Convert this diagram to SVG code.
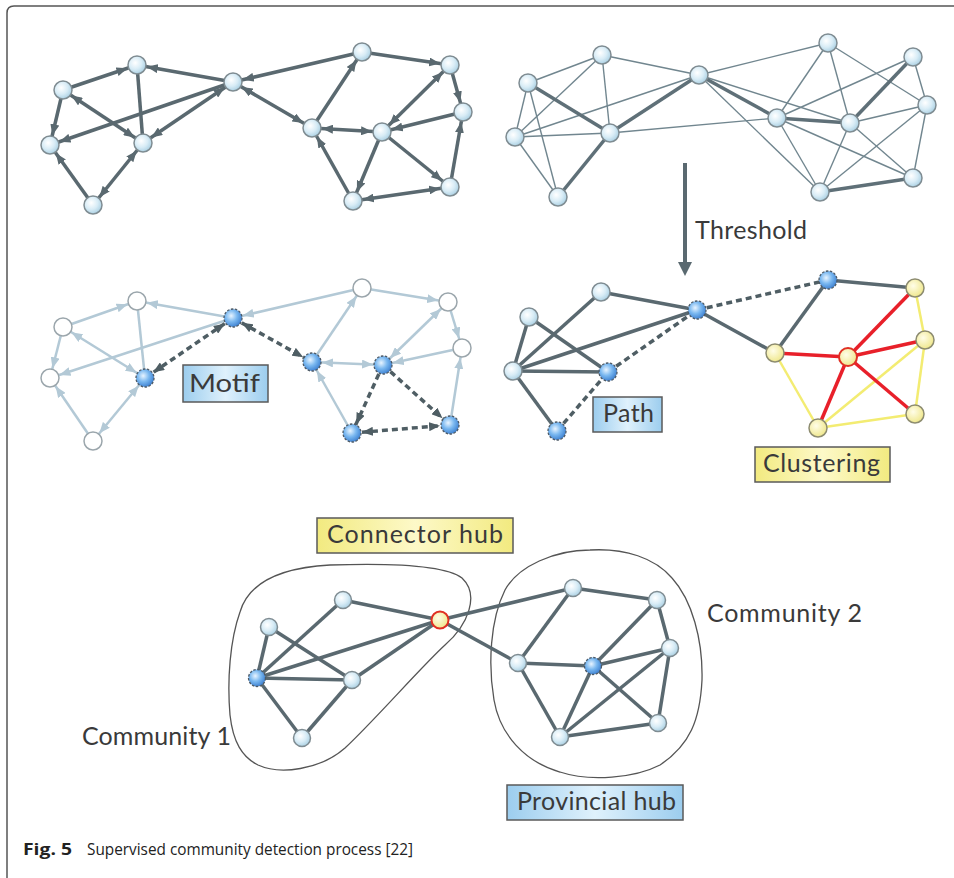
<svg xmlns="http://www.w3.org/2000/svg" width="954" height="878" viewBox="0 0 954 878">
  <defs>
    <radialGradient id="gNode" cx="40%" cy="38%" r="65%">
      <stop offset="0" stop-color="#ffffff"/>
      <stop offset="0.55" stop-color="#d8ecf6"/>
      <stop offset="1" stop-color="#a9cfe2"/>
    </radialGradient>
    <radialGradient id="gBlue" cx="40%" cy="38%" r="65%">
      <stop offset="0" stop-color="#e8f4ff"/>
      <stop offset="0.5" stop-color="#7ab8f0"/>
      <stop offset="1" stop-color="#3c7fd0"/>
    </radialGradient>
    <radialGradient id="gYellow" cx="40%" cy="38%" r="65%">
      <stop offset="0" stop-color="#fffde8"/>
      <stop offset="1" stop-color="#efe78a"/>
    </radialGradient>
    <linearGradient id="gBoxBlue" x1="0" y1="0" x2="1" y2="0">
      <stop offset="0" stop-color="#9ccdee"/>
      <stop offset="0.5" stop-color="#dff1fc"/>
      <stop offset="1" stop-color="#9ccdee"/>
    </linearGradient>
    <linearGradient id="gBoxYellow" x1="0" y1="0" x2="1" y2="0">
      <stop offset="0" stop-color="#f2ea80"/>
      <stop offset="0.5" stop-color="#fdf9c8"/>
      <stop offset="1" stop-color="#f2ea80"/>
    </linearGradient>
    <marker id="ahDark" viewBox="0 0 11 9" refX="21" refY="4.5" markerWidth="11" markerHeight="9" markerUnits="userSpaceOnUse" orient="auto-start-reverse">
      <path d="M0,0 L11,4.5 L0,9 z" fill="#5a6970"/>
    </marker>
    <marker id="ahLight" viewBox="0 0 11 9" refX="21" refY="4.5" markerWidth="11" markerHeight="9" markerUnits="userSpaceOnUse" orient="auto-start-reverse">
      <path d="M0,0 L11,4.5 L0,9 z" fill="#b3c9d6"/>
    </marker>
    <marker id="ahDash" viewBox="0 0 11 9" refX="21" refY="4.5" markerWidth="11" markerHeight="9" markerUnits="userSpaceOnUse" orient="auto-start-reverse">
      <path d="M0,0 L11,4.5 L0,9 z" fill="#4f5e64"/>
    </marker>
  </defs>
  <style>
    .frame { fill: none; stroke: #555; stroke-width: 1.5; }
    .dark { stroke: #5a6970; stroke-width: 3.5; fill: none; }
    .light { stroke: #b3c9d6; stroke-width: 2.5; fill: none; }
    .dash { stroke: #4f5e64; stroke-width: 3.5; stroke-dasharray: 6 4; fill: none; }
    .thin { stroke: #71868f; stroke-width: 1.4; }
    .thick { stroke: #5f7078; stroke-width: 3.5; }
    .red { stroke: #e8202a; stroke-width: 3.5; }
    .yel { stroke: #f3ec72; stroke-width: 2.5; }
    .end { marker-end: url(#ahDark); }
    .both { marker-start: url(#ahDark); marker-end: url(#ahDark); }
    .lend { marker-end: url(#ahLight); }
    .lboth { marker-start: url(#ahLight); marker-end: url(#ahLight); }
    .dend { marker-end: url(#ahDash); }
    .dboth { marker-start: url(#ahDash); marker-end: url(#ahDash); }
    .n { fill: url(#gNode); stroke: #7f8c92; stroke-width: 1.5; }
    .nl { fill: #ffffff; stroke: #9ba6ac; stroke-width: 1.5; }
    .nb { fill: url(#gBlue); stroke: #4d5a66; stroke-width: 1.3; stroke-dasharray: 2.5 1.5; }
    .ny { fill: url(#gYellow); stroke: #8d8c70; stroke-width: 1.5; }
    .nh { fill: url(#gYellow); stroke: #e03024; stroke-width: 2; }
    .hull { fill: none; stroke: #555; stroke-width: 1.3; }
    .boxB { fill: url(#gBoxBlue); stroke: #5a5a5a; stroke-width: 1.5; }
    .boxY { fill: url(#gBoxYellow); stroke: #5a5a5a; stroke-width: 1.5; }
    .lbl { font-family: Lato, "Open Sans", sans-serif; font-size: 25px; fill: #3a3a3a; }
    .cap { font-family: "Open Sans", "Noto Sans", sans-serif; font-size: 16.5px; fill: #222; }
  </style>

  <!-- page frame -->
  <path class="frame" d="M7,878 L7,13 Q7,6 14,6 L954,6"/>

  <!-- ============ Panel 1: directed network ============ -->
  <g id="p1-edges">
    <line class="dark end" x1="63" y1="90" x2="137" y2="65"/>
    <line class="dark end" x1="63" y1="90" x2="50" y2="145"/>
    <line class="dark end" x1="233" y1="82" x2="137" y2="65"/>
    <line class="dark end" x1="233" y1="82" x2="50" y2="145"/>
    <line class="dark both" x1="233" y1="82" x2="143" y2="143"/>
    <line class="dark" x1="137" y1="65" x2="143" y2="143"/>
    <line class="dark both" x1="63" y1="90" x2="143" y2="143"/>
    <line class="dark end" x1="93" y1="205" x2="50" y2="145"/>
    <line class="dark both" x1="93" y1="205" x2="143" y2="143"/>
    <line class="dark end" x1="362" y1="52" x2="233" y2="82"/>
    <line class="dark end" x1="362" y1="52" x2="450" y2="65"/>
    <line class="dark both" x1="233" y1="82" x2="312" y2="128"/>
    <line class="dark end" x1="312" y1="128" x2="362" y2="52"/>
    <line class="dark both" x1="312" y1="128" x2="382" y2="132"/>
    <line class="dark both" x1="450" y1="65" x2="382" y2="132"/>
    <line class="dark end" x1="450" y1="65" x2="463" y2="112"/>
    <line class="dark end" x1="463" y1="112" x2="382" y2="132"/>
    <line class="dark end" x1="382" y1="132" x2="353" y2="201"/>
    <line class="dark end" x1="382" y1="132" x2="450" y2="187"/>
    <line class="dark end" x1="353" y1="201" x2="312" y2="128"/>
    <line class="dark end" x1="450" y1="187" x2="463" y2="112"/>
    <line class="dark both" x1="353" y1="201" x2="450" y2="187"/>
  </g>
  <g id="p1-A"><circle class="n" cx="63" cy="90" r="9"/></g>
  <g id="p1-B"><circle class="n" cx="137" cy="65" r="9"/></g>
  <g id="p1-C"><circle class="n" cx="233" cy="82" r="9"/></g>
  <g id="p1-D"><circle class="n" cx="50" cy="145" r="9"/></g>
  <g id="p1-E"><circle class="n" cx="143" cy="143" r="9"/></g>
  <g id="p1-F"><circle class="n" cx="93" cy="205" r="9"/></g>
  <g id="p1-G"><circle class="n" cx="362" cy="52" r="9"/></g>
  <g id="p1-H"><circle class="n" cx="450" cy="65" r="9"/></g>
  <g id="p1-I"><circle class="n" cx="463" cy="112" r="9"/></g>
  <g id="p1-J"><circle class="n" cx="312" cy="128" r="9"/></g>
  <g id="p1-K"><circle class="n" cx="382" cy="132" r="9"/></g>
  <g id="p1-L"><circle class="n" cx="450" cy="187" r="9"/></g>
  <g id="p1-M"><circle class="n" cx="353" cy="201" r="9"/></g>

  <!-- ============ Panel 2: weighted network ============ -->
  <g id="p2-edges">
    <line class="thin" x1="528" y1="83" x2="602" y2="55"/>
    <line class="thin" x1="528" y1="83" x2="515" y2="137"/>
    <line class="thin" x1="528" y1="83" x2="558" y2="197"/>
    <line class="thin" x1="602" y1="55" x2="515" y2="137"/>
    <line class="thin" x1="602" y1="55" x2="699" y2="75"/>
    <line class="thin" x1="602" y1="55" x2="610" y2="133"/>
    <line class="thin" x1="515" y1="137" x2="699" y2="75"/>
    <line class="thin" x1="515" y1="137" x2="610" y2="133"/>
    <line class="thin" x1="515" y1="137" x2="558" y2="197"/>
    <line class="thin" x1="610" y1="133" x2="777" y2="118"/>
    <line class="thin" x1="699" y1="75" x2="828" y2="43"/>
    <line class="thin" x1="699" y1="75" x2="850" y2="123"/>
    <line class="thin" x1="699" y1="75" x2="820" y2="192"/>
    <line class="thin" x1="828" y1="43" x2="777" y2="118"/>
    <line class="thin" x1="828" y1="43" x2="850" y2="123"/>
    <line class="thin" x1="828" y1="43" x2="927" y2="105"/>
    <line class="thin" x1="913" y1="57" x2="777" y2="118"/>
    <line class="thin" x1="913" y1="57" x2="927" y2="105"/>
    <line class="thin" x1="777" y1="118" x2="913" y2="178"/>
    <line class="thin" x1="777" y1="118" x2="820" y2="192"/>
    <line class="thin" x1="850" y1="123" x2="927" y2="105"/>
    <line class="thin" x1="850" y1="123" x2="820" y2="192"/>
    <line class="thin" x1="850" y1="123" x2="913" y2="178"/>
    <line class="thin" x1="927" y1="105" x2="820" y2="192"/>
    <line class="thin" x1="927" y1="105" x2="913" y2="178"/>
    <line class="thick" x1="528" y1="83" x2="610" y2="133"/>
    <line class="thick" x1="699" y1="75" x2="610" y2="133"/>
    <line class="thick" x1="610" y1="133" x2="558" y2="197"/>
    <line class="thick" x1="699" y1="75" x2="777" y2="118"/>
    <line class="thick" x1="777" y1="118" x2="850" y2="123"/>
    <line class="thick" x1="913" y1="57" x2="850" y2="123"/>
    <line class="thick" x1="820" y1="192" x2="913" y2="178"/>
  </g>
  <g id="p2-1"><circle class="n" cx="528" cy="83" r="9"/></g>
  <g id="p2-2"><circle class="n" cx="602" cy="55" r="9"/></g>
  <g id="p2-3"><circle class="n" cx="699" cy="75" r="9"/></g>
  <g id="p2-4"><circle class="n" cx="515" cy="137" r="9"/></g>
  <g id="p2-5"><circle class="n" cx="610" cy="133" r="9"/></g>
  <g id="p2-6"><circle class="n" cx="558" cy="197" r="9"/></g>
  <g id="p2-7"><circle class="n" cx="828" cy="43" r="9"/></g>
  <g id="p2-8"><circle class="n" cx="913" cy="57" r="9"/></g>
  <g id="p2-9"><circle class="n" cx="927" cy="105" r="9"/></g>
  <g id="p2-10"><circle class="n" cx="777" cy="118" r="9"/></g>
  <g id="p2-11"><circle class="n" cx="850" cy="123" r="9"/></g>
  <g id="p2-12"><circle class="n" cx="913" cy="178" r="9"/></g>
  <g id="p2-13"><circle class="n" cx="820" cy="192" r="9"/></g>

  <!-- threshold step -->
  <g id="threshold">
    <line x1="685" y1="163" x2="685" y2="263" stroke="#5a6970" stroke-width="4"/>
    <polygon points="678,262 692,262 685,276" fill="#5a6970"/>
    <text class="lbl" x="695" y="239" textLength="112">Threshold</text>
  </g>

  <!-- ============ Panel 3: motif ============ -->
  <g id="p3-edges">
    <line class="light lend" x1="63" y1="327" x2="137" y2="301"/>
    <line class="light lend" x1="63" y1="327" x2="50" y2="378"/>
    <line class="light lend" x1="233" y1="318" x2="137" y2="301"/>
    <line class="light lend" x1="233" y1="318" x2="50" y2="378"/>
    <line class="light" x1="137" y1="301" x2="145" y2="378"/>
    <line class="light lboth" x1="63" y1="327" x2="145" y2="378"/>
    <line class="light lend" x1="93" y1="441" x2="50" y2="378"/>
    <line class="light lboth" x1="93" y1="441" x2="145" y2="378"/>
    <line class="light lend" x1="362" y1="288" x2="233" y2="318"/>
    <line class="light lend" x1="362" y1="288" x2="448" y2="302"/>
    <line class="light lend" x1="312" y1="362" x2="362" y2="288"/>
    <line class="light lboth" x1="312" y1="362" x2="383" y2="365"/>
    <line class="light lboth" x1="448" y1="302" x2="383" y2="365"/>
    <line class="light lend" x1="448" y1="302" x2="462" y2="348"/>
    <line class="light lend" x1="462" y1="348" x2="383" y2="365"/>
    <line class="light lend" x1="352" y1="433" x2="312" y2="362"/>
    <line class="light lend" x1="450" y1="425" x2="462" y2="348"/>
    <line class="dash dboth" x1="233" y1="318" x2="145" y2="378"/>
    <line class="dash dboth" x1="233" y1="318" x2="312" y2="362"/>
    <line class="dash dend" x1="383" y1="365" x2="352" y2="433"/>
    <line class="dash dend" x1="383" y1="365" x2="450" y2="425"/>
    <line class="dash dboth" x1="352" y1="433" x2="450" y2="425"/>
  </g>
  <g id="p3-A"><circle class="nl" cx="63" cy="327" r="9"/></g>
  <g id="p3-B"><circle class="nl" cx="137" cy="301" r="9"/></g>
  <g id="p3-C"><circle class="nb" cx="233" cy="318" r="9"/></g>
  <g id="p3-D"><circle class="nl" cx="50" cy="378" r="9"/></g>
  <g id="p3-E"><circle class="nb" cx="145" cy="378" r="9"/></g>
  <g id="p3-F"><circle class="nl" cx="93" cy="441" r="9"/></g>
  <g id="p3-G"><circle class="nl" cx="362" cy="288" r="9"/></g>
  <g id="p3-H"><circle class="nl" cx="448" cy="302" r="9"/></g>
  <g id="p3-I"><circle class="nl" cx="462" cy="348" r="9"/></g>
  <g id="p3-J"><circle class="nb" cx="312" cy="362" r="9"/></g>
  <g id="p3-K"><circle class="nb" cx="383" cy="365" r="9"/></g>
  <g id="p3-L"><circle class="nb" cx="450" cy="425" r="9"/></g>
  <g id="p3-M"><circle class="nb" cx="352" cy="433" r="9"/></g>
  <g id="label-motif">
    <rect class="boxB" x="183" y="365" width="85" height="37"/>
    <text class="lbl" x="189" y="392" font-size="29" textLength="71" lengthAdjust="spacingAndGlyphs">Motif</text>
  </g>

  <!-- ============ Panel 4: path and clustering ============ -->
  <g id="p4-edges">
    <line class="dark" x1="529" y1="317" x2="513" y2="371"/>
    <line class="dark" x1="529" y1="317" x2="608" y2="372"/>
    <line class="dark" x1="601" y1="292" x2="513" y2="371"/>
    <line class="dark" x1="601" y1="292" x2="697" y2="310"/>
    <line class="dark" x1="513" y1="371" x2="697" y2="310"/>
    <line class="dark" x1="513" y1="371" x2="608" y2="372"/>
    <line class="dark" x1="513" y1="371" x2="557" y2="431"/>
    <line class="dark" x1="697" y1="310" x2="775" y2="353"/>
    <line class="dark" x1="828" y1="280" x2="775" y2="353"/>
    <line class="dark" x1="828" y1="280" x2="915" y2="288"/>
    <line class="dash" x1="557" y1="431" x2="608" y2="372"/>
    <line class="dash" x1="608" y1="372" x2="697" y2="310"/>
    <line class="dash" x1="697" y1="310" x2="828" y2="280"/>
    <line class="yel" x1="915" y1="288" x2="925" y2="340"/>
    <line class="yel" x1="925" y1="340" x2="915" y2="414"/>
    <line class="yel" x1="775" y1="353" x2="818" y2="428"/>
    <line class="yel" x1="818" y1="428" x2="915" y2="414"/>
    <line class="yel" x1="818" y1="428" x2="925" y2="340"/>
    <line class="red" x1="775" y1="353" x2="848" y2="357"/>
    <line class="red" x1="848" y1="357" x2="915" y2="288"/>
    <line class="red" x1="848" y1="357" x2="925" y2="340"/>
    <line class="red" x1="848" y1="357" x2="915" y2="414"/>
    <line class="red" x1="848" y1="357" x2="818" y2="428"/>
  </g>
  <g id="p4-1"><circle class="n" cx="529" cy="317" r="9"/></g>
  <g id="p4-2"><circle class="n" cx="601" cy="292" r="9"/></g>
  <g id="p4-3"><circle class="nb" cx="697" cy="310" r="9"/></g>
  <g id="p4-4"><circle class="n" cx="513" cy="371" r="9"/></g>
  <g id="p4-5"><circle class="nb" cx="608" cy="372" r="9"/></g>
  <g id="p4-6"><circle class="nb" cx="557" cy="431" r="9"/></g>
  <g id="p4-7"><circle class="nb" cx="828" cy="280" r="9"/></g>
  <g id="p4-8"><circle class="ny" cx="915" cy="288" r="9"/></g>
  <g id="p4-9"><circle class="ny" cx="775" cy="353" r="9"/></g>
  <g id="p4-10"><circle class="nh" cx="848" cy="357" r="9"/></g>
  <g id="p4-11"><circle class="ny" cx="925" cy="340" r="9"/></g>
  <g id="p4-12"><circle class="ny" cx="915" cy="414" r="9"/></g>
  <g id="p4-13"><circle class="ny" cx="818" cy="428" r="9"/></g>
  <g id="label-path">
    <rect class="boxB" x="593" y="397" width="69" height="35"/>
    <text class="lbl" x="603" y="422" textLength="51">Path</text>
  </g>
  <g id="label-clustering">
    <rect class="boxY" x="755" y="447" width="135" height="35"/>
    <text class="lbl" x="763" y="472" textLength="117">Clustering</text>
  </g>

  <!-- ============ Bottom: communities ============ -->
  <path class="hull" id="hull-1" d="M240,612 C248,585 275,568 330,565 C390,563 445,565 462,578 C480,595 468,625 445,645 C420,668 375,720 345,748 C320,770 280,775 258,765 C242,757 233,742 230,715 C227,680 230,640 240,612 Z"/>
  <path class="hull" id="hull-2" d="M590,550 C625,548 655,558 672,578 C692,600 703,640 702,680 C700,720 690,745 660,765 C635,778 590,782 560,772 C525,762 500,735 494,700 C488,665 490,620 505,590 C518,566 555,550 590,550 Z"/>
  <g id="community-edges">
    <line class="dark" x1="343" y1="600" x2="257" y2="678"/>
    <line class="dark" x1="343" y1="600" x2="440" y2="620"/>
    <line class="dark" x1="269" y1="627" x2="257" y2="678"/>
    <line class="dark" x1="269" y1="627" x2="352" y2="680"/>
    <line class="dark" x1="257" y1="678" x2="440" y2="620"/>
    <line class="dark" x1="257" y1="678" x2="352" y2="680"/>
    <line class="dark" x1="257" y1="678" x2="302" y2="738"/>
    <line class="dark" x1="352" y1="680" x2="440" y2="620"/>
    <line class="dark" x1="352" y1="680" x2="302" y2="738"/>
    <line class="dark" x1="440" y1="620" x2="573" y2="588"/>
    <line class="dark" x1="440" y1="620" x2="518" y2="663"/>
    <line class="dark" x1="518" y1="663" x2="573" y2="588"/>
    <line class="dark" x1="518" y1="663" x2="593" y2="666"/>
    <line class="dark" x1="518" y1="663" x2="560" y2="737"/>
    <line class="dark" x1="573" y1="588" x2="657" y2="600"/>
    <line class="dark" x1="657" y1="600" x2="593" y2="666"/>
    <line class="dark" x1="657" y1="600" x2="670" y2="648"/>
    <line class="dark" x1="670" y1="648" x2="593" y2="666"/>
    <line class="dark" x1="670" y1="648" x2="658" y2="723"/>
    <line class="dark" x1="670" y1="648" x2="560" y2="737"/>
    <line class="dark" x1="593" y1="666" x2="658" y2="723"/>
    <line class="dark" x1="593" y1="666" x2="560" y2="737"/>
    <line class="dark" x1="560" y1="737" x2="658" y2="723"/>
  </g>
  <g id="c1-1"><circle class="n" cx="343" cy="600" r="8.5"/></g>
  <g id="c1-2"><circle class="n" cx="269" cy="627" r="8.5"/></g>
  <g id="c1-3"><circle class="nb" cx="257" cy="678" r="8.5" stroke-dasharray="none"/></g>
  <g id="c1-4"><circle class="n" cx="352" cy="680" r="8.5"/></g>
  <g id="c1-5"><circle class="n" cx="302" cy="738" r="8.5"/></g>
  <g id="connector-hub"><circle class="nh" cx="440" cy="620" r="8.5"/></g>
  <g id="c2-1"><circle class="n" cx="518" cy="663" r="8.5"/></g>
  <g id="c2-2"><circle class="n" cx="573" cy="588" r="8.5"/></g>
  <g id="c2-3"><circle class="n" cx="657" cy="600" r="8.5"/></g>
  <g id="c2-4"><circle class="n" cx="670" cy="648" r="8.5"/></g>
  <g id="provincial-hub"><circle class="nb" cx="593" cy="666" r="8.5" stroke-dasharray="none"/></g>
  <g id="c2-6"><circle class="n" cx="658" cy="723" r="8.5"/></g>
  <g id="c2-7"><circle class="n" cx="560" cy="737" r="8.5"/></g>

  <g id="label-connector-hub">
    <rect class="boxY" x="317" y="518" width="196" height="35"/>
    <text class="lbl" x="327" y="543" textLength="176">Connector hub</text>
  </g>
  <g id="label-provincial-hub">
    <rect class="boxB" x="507" y="785" width="176" height="35"/>
    <text class="lbl" x="517" y="810" textLength="159">Provincial hub</text>
  </g>
  <text class="lbl" x="707" y="622" textLength="155">Community 2</text>
  <text class="lbl" x="82" y="745" textLength="149">Community 1</text>

  <!-- caption -->
  <text class="cap" x="23" y="855" font-weight="bold" textLength="49" lengthAdjust="spacingAndGlyphs">Fig. 5</text>
  <text class="cap" x="87" y="855" textLength="326" lengthAdjust="spacingAndGlyphs">Supervised community detection process [22]</text>
</svg>
